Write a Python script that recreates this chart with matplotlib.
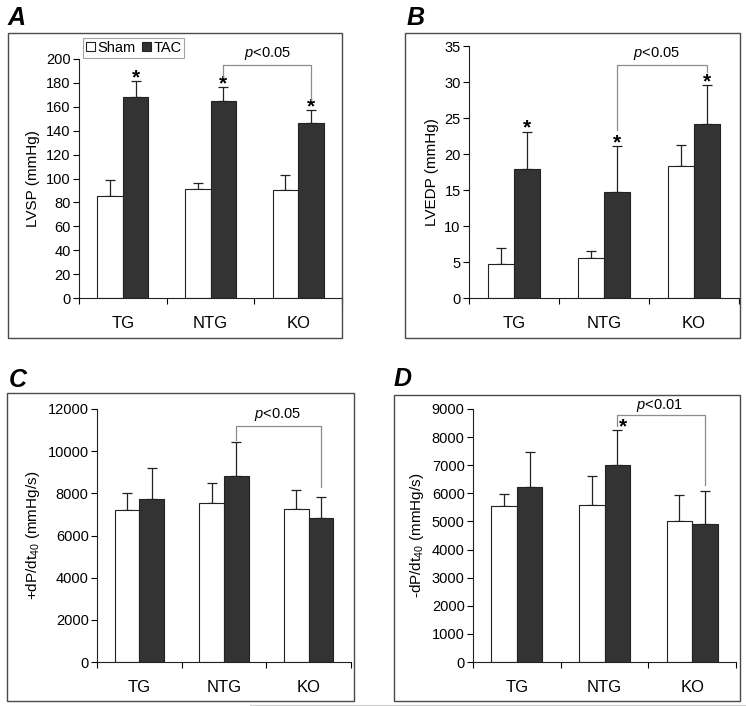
import matplotlib
matplotlib.use("Agg")
import matplotlib.pyplot as plt
from matplotlib.patches import Rectangle
from matplotlib.lines import Line2D
import numpy as np

plt.rcParams['font.family'] = ['Liberation Sans', 'DejaVu Sans']
plt.rcParams['mathtext.fontset'] = 'custom'
plt.rcParams['mathtext.rm'] = 'Liberation Sans'
plt.rcParams['mathtext.it'] = 'Liberation Sans:italic'
plt.rcParams['mathtext.default'] = 'regular'

categories = ['TG', 'NTG', 'KO']
series = ['Sham', 'TAC']

# Panel A: LVSP
lvsp_sham = [85.5, 91.0, 90.0]
lvsp_sham_top = [98.5, 96.0, 103.0]
lvsp_tac = [168.5, 164.5, 146.5]
lvsp_tac_top = [181.5, 176.5, 157.0]

# Panel B: LVEDP
lvedp_sham = [4.7, 5.55, 18.3]
lvedp_sham_top = [7.0, 6.5, 21.2]
lvedp_tac = [17.9, 14.7, 24.1]
lvedp_tac_top = [23.1, 21.1, 29.6]

# Panel C: +dP/dt40
pdp_sham = [7200, 7560, 7250]
pdp_sham_top = [8000, 8480, 8180]
pdp_tac = [7720, 8840, 6850]
pdp_tac_top = [9190, 10430, 7830]

# Panel D: -dP/dt40
ndp_sham = [5550, 5590, 5000]
ndp_sham_top = [5980, 6600, 5930]
ndp_tac = [6220, 7010, 4910]
ndp_tac_top = [7480, 8250, 6100]

W, H = 746, 706
fig = plt.figure(figsize=(W / 100, H / 100), dpi=100)

def fx(px):
    return px / W

def fy(py):
    return 1 - py / H

def box(x0, y0, x1, y1):
    fig.patches.append(Rectangle((fx(x0), fy(y1)), fx(x1) - fx(x0), fy(y0) - fy(y1),
                                 transform=fig.transFigure, fill=False,
                                 edgecolor='#4a4a4a', lw=1.0))

def make_ax(x0, y0, x1, y1):
    return fig.add_axes([fx(x0), fy(y1), fx(x1) - fx(x0), fy(y0) - fy(y1)])

bw = 0.29
FS = 10.5
dark = '#333333'
edge = '#222222'

def draw(ax, sham, sham_top, tac, tac_top, ymax, ystep, ylabel, stars, bracket, ptext):
    x = np.arange(len(categories))
    ax.bar(x - bw / 2, sham, bw, color='white', edgecolor=edge, lw=0.8, zorder=2)
    ax.bar(x + bw / 2, tac, bw, color=dark, edgecolor=edge, lw=0.8, zorder=2)
    ax.errorbar(x - bw / 2, sham, yerr=[np.zeros(3), np.array(sham_top) - np.array(sham)],
                fmt='none', ecolor=edge, elinewidth=0.9, capsize=3.5, capthick=0.9, zorder=1)
    ax.errorbar(x + bw / 2, tac, yerr=[np.zeros(3), np.array(tac_top) - np.array(tac)],
                fmt='none', ecolor=edge, elinewidth=0.9, capsize=3.5, capthick=0.9, zorder=1)
    ax.set_xlim(-0.5, 2.5)
    ax.set_ylim(0, ymax)
    ax.set_yticks(np.arange(0, ymax + ystep / 2, ystep))
    ax.set_xticks([-0.5, 0.5, 1.5, 2.5])
    ax.set_xticklabels([])
    ax.set_xticks(x, minor=True)
    ax.set_xticklabels(categories, minor=True)
    ax.tick_params(axis='x', which='minor', length=0, pad=13, labelsize=12)
    ax.tick_params(axis='x', which='major', length=4, width=0.8, direction='out')
    ax.tick_params(axis='y', length=4, width=0.8, pad=2, labelsize=FS)
    for s in ['top', 'right']:
        ax.spines[s].set_visible(False)
    for s in ['left', 'bottom']:
        ax.spines[s].set_linewidth(0.8)
        ax.spines[s].set_color('#222222')
    ax.set_ylabel(ylabel, fontsize=FS + 0.5, labelpad=4)
    for i, off in stars:
        ax.annotate('*', xy=(i + bw / 2, tac_top[i]), xytext=(off, -1.5),
                    textcoords='offset points', ha='center', va='baseline',
                    fontsize=15, fontweight='bold', annotation_clip=False)
    (bi, bj, ytop, yl, yr) = bracket
    xl = bi + bw / 2
    xr = bj + bw / 2
    ax.plot([xl, xl, xr, xr], [yl, ytop, ytop, yr], color='#8c8c8c', lw=0.9, clip_on=False, zorder=3)
    ax.text(ptext[0], ptext[1], r'$\mathit{p}$<' + ptext[2], ha='center', va='center',
            fontsize=FS, clip_on=False)

# Panel boxes
box(8, 33, 342, 338)
box(405, 33, 740, 338)
box(7, 393, 354, 701)
box(394, 395, 740, 701)

# faint artifact line at bottom
fig.add_artist(Line2D([fx(250), 1.0], [fy(705), fy(705)], transform=fig.transFigure,
                      color='#cfcfcf', lw=0.8))

axA = make_ax(79, 59, 342, 298)
draw(axA, lvsp_sham, lvsp_sham_top, lvsp_tac, lvsp_tac_top, 200, 20, 'LVSP (mmHg)',
     [(0, 0), (1, 0), (2, 0)], (1, 2, 195, 185, 166), (1.65, 205, '0.05'))

axB = make_ax(469, 46, 739, 298)
draw(axB, lvedp_sham, lvedp_sham_top, lvedp_tac, lvedp_tac_top, 35, 5, 'LVEDP (mmHg)',
     [(0, 0), (1, 0), (2, 0)], (1, 2, 32.3, 23.4, 31.4), (1.58, 34.0, '0.05'))

axC = make_ax(97, 409, 351, 662)
draw(axC, pdp_sham, pdp_sham_top, pdp_tac, pdp_tac_top, 12000, 2000,
     r'+dP/dt$_{40}$ (mmHg/s)', [], (1, 2, 11200, 10550, 8320), (1.63, 11720, '0.05'))

axD = make_ax(473, 409, 736, 662)
draw(axD, ndp_sham, ndp_sham_top, ndp_tac, ndp_tac_top, 9000, 1000,
     r'-dP/dt$_{40}$ (mmHg/s)', [(1, 4)], (1, 2, 8770, 8380, 6300), (1.63, 9110, '0.01'))

# Panel letters
for letter, px, py in [('A', 8, 25), ('B', 407, 25), ('C', 9, 387), ('D', 394, 386)]:
    fig.text(fx(px), fy(py), letter, fontsize=18, fontweight='bold', fontstyle='italic',
             ha='left', va='baseline')

# Legend
handles = [Rectangle((0, 0), 1, 1, facecolor='white', edgecolor='#222222', lw=0.8),
           Rectangle((0, 0), 1, 1, facecolor=dark, edgecolor='#222222', lw=0.8)]
leg = fig.legend(handles, series, loc='upper left', bbox_to_anchor=(fx(83), fy(38)),
                 ncol=2, fontsize=FS, frameon=True, fancybox=False,
                 handlelength=0.6, handleheight=0.6, handletextpad=0.15,
                 columnspacing=0.5, borderpad=0.2, borderaxespad=0)
leg.get_frame().set_edgecolor('#8c8c8c')
leg.get_frame().set_linewidth(0.8)

fig.savefig('out.png', dpi=100)
